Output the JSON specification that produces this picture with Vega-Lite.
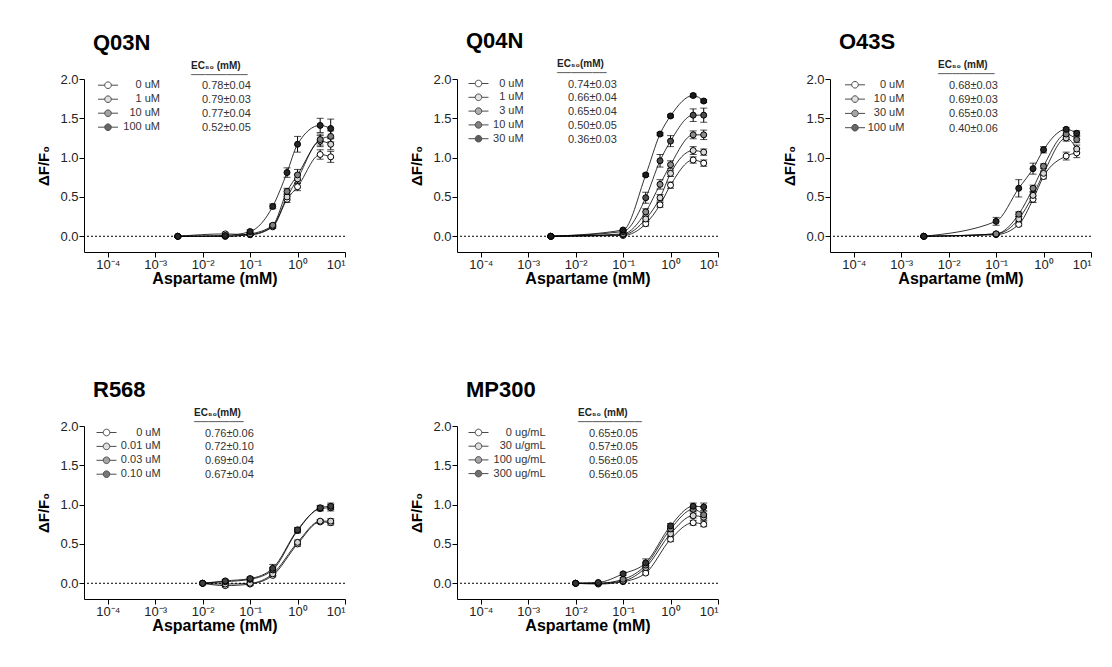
{
"$schema":"https://vega.github.io/schema/vega-lite/v6.json",
"background":"white",
"padding":{"left":36,"top":30,"right":5,"bottom":5},
"columns":3,
"spacing":{"row":174,"column":112},
"bounds":"flush",
"datasets":{
"q03n":[
{"conc":"0 uM","entry":"0 uM|0.78±0.04","order":0,"x":0.003,"y":0,"err":0.01},
{"conc":"0 uM","entry":"0 uM|0.78±0.04","order":0,"x":0.03,"y":0.03,"err":0.02},
{"conc":"0 uM","entry":"0 uM|0.78±0.04","order":0,"x":0.1,"y":0.02,"err":0.01},
{"conc":"0 uM","entry":"0 uM|0.78±0.04","order":0,"x":0.3,"y":0.12,"err":0.02},
{"conc":"0 uM","entry":"0 uM|0.78±0.04","order":0,"x":0.6,"y":0.47,"err":0.04},
{"conc":"0 uM","entry":"0 uM|0.78±0.04","order":0,"x":1,"y":0.63,"err":0.05},
{"conc":"0 uM","entry":"0 uM|0.78±0.04","order":0,"x":3,"y":1.04,"err":0.06},
{"conc":"0 uM","entry":"0 uM|0.78±0.04","order":0,"x":5,"y":1.01,"err":0.07},
{"conc":"1 uM","entry":"1 uM|0.79±0.03","order":1,"x":0.003,"y":0,"err":0.01},
{"conc":"1 uM","entry":"1 uM|0.79±0.03","order":1,"x":0.03,"y":0.0,"err":0.01},
{"conc":"1 uM","entry":"1 uM|0.79±0.03","order":1,"x":0.1,"y":0.02,"err":0.01},
{"conc":"1 uM","entry":"1 uM|0.79±0.03","order":1,"x":0.3,"y":0.13,"err":0.02},
{"conc":"1 uM","entry":"1 uM|0.79±0.03","order":1,"x":0.6,"y":0.5,"err":0.04},
{"conc":"1 uM","entry":"1 uM|0.79±0.03","order":1,"x":1,"y":0.73,"err":0.06},
{"conc":"1 uM","entry":"1 uM|0.79±0.03","order":1,"x":3,"y":1.21,"err":0.07},
{"conc":"1 uM","entry":"1 uM|0.79±0.03","order":1,"x":5,"y":1.17,"err":0.07},
{"conc":"10 uM","entry":"10 uM|0.77±0.04","order":2,"x":0.003,"y":0,"err":0.01},
{"conc":"10 uM","entry":"10 uM|0.77±0.04","order":2,"x":0.03,"y":0.0,"err":0.01},
{"conc":"10 uM","entry":"10 uM|0.77±0.04","order":2,"x":0.1,"y":0.03,"err":0.01},
{"conc":"10 uM","entry":"10 uM|0.77±0.04","order":2,"x":0.3,"y":0.14,"err":0.02},
{"conc":"10 uM","entry":"10 uM|0.77±0.04","order":2,"x":0.6,"y":0.57,"err":0.04},
{"conc":"10 uM","entry":"10 uM|0.77±0.04","order":2,"x":1,"y":0.78,"err":0.07},
{"conc":"10 uM","entry":"10 uM|0.77±0.04","order":2,"x":3,"y":1.23,"err":0.07},
{"conc":"10 uM","entry":"10 uM|0.77±0.04","order":2,"x":5,"y":1.27,"err":0.07},
{"conc":"100 uM","entry":"100 uM|0.52±0.05","order":3,"x":0.003,"y":0,"err":0.01},
{"conc":"100 uM","entry":"100 uM|0.52±0.05","order":3,"x":0.03,"y":0.01,"err":0.01},
{"conc":"100 uM","entry":"100 uM|0.52±0.05","order":3,"x":0.1,"y":0.06,"err":0.02},
{"conc":"100 uM","entry":"100 uM|0.52±0.05","order":3,"x":0.3,"y":0.38,"err":0.03},
{"conc":"100 uM","entry":"100 uM|0.52±0.05","order":3,"x":0.6,"y":0.81,"err":0.06},
{"conc":"100 uM","entry":"100 uM|0.52±0.05","order":3,"x":1,"y":1.17,"err":0.1},
{"conc":"100 uM","entry":"100 uM|0.52±0.05","order":3,"x":3,"y":1.41,"err":0.09},
{"conc":"100 uM","entry":"100 uM|0.52±0.05","order":3,"x":5,"y":1.37,"err":0.12}
],
"q04n":[
{"conc":"0 uM","entry":"0 uM|0.74±0.03","order":0,"x":0.003,"y":0,"err":0.01},
{"conc":"0 uM","entry":"0 uM|0.74±0.03","order":0,"x":0.1,"y":0.01,"err":0.01},
{"conc":"0 uM","entry":"0 uM|0.74±0.03","order":0,"x":0.3,"y":0.16,"err":0.03},
{"conc":"0 uM","entry":"0 uM|0.74±0.03","order":0,"x":0.6,"y":0.40,"err":0.03},
{"conc":"0 uM","entry":"0 uM|0.74±0.03","order":0,"x":1,"y":0.65,"err":0.04},
{"conc":"0 uM","entry":"0 uM|0.74±0.03","order":0,"x":3,"y":0.97,"err":0.04},
{"conc":"0 uM","entry":"0 uM|0.74±0.03","order":0,"x":5,"y":0.93,"err":0.04},
{"conc":"1 uM","entry":"1 uM|0.66±0.04","order":1,"x":0.003,"y":0,"err":0.01},
{"conc":"1 uM","entry":"1 uM|0.66±0.04","order":1,"x":0.1,"y":0.02,"err":0.01},
{"conc":"1 uM","entry":"1 uM|0.66±0.04","order":1,"x":0.3,"y":0.22,"err":0.03},
{"conc":"1 uM","entry":"1 uM|0.66±0.04","order":1,"x":0.6,"y":0.49,"err":0.04},
{"conc":"1 uM","entry":"1 uM|0.66±0.04","order":1,"x":1,"y":0.80,"err":0.04},
{"conc":"1 uM","entry":"1 uM|0.66±0.04","order":1,"x":3,"y":1.09,"err":0.05},
{"conc":"1 uM","entry":"1 uM|0.66±0.04","order":1,"x":5,"y":1.07,"err":0.04},
{"conc":"3 uM","entry":"3 uM|0.65±0.04","order":2,"x":0.003,"y":0,"err":0.01},
{"conc":"3 uM","entry":"3 uM|0.65±0.04","order":2,"x":0.1,"y":0.03,"err":0.01},
{"conc":"3 uM","entry":"3 uM|0.65±0.04","order":2,"x":0.3,"y":0.31,"err":0.04},
{"conc":"3 uM","entry":"3 uM|0.65±0.04","order":2,"x":0.6,"y":0.66,"err":0.06},
{"conc":"3 uM","entry":"3 uM|0.65±0.04","order":2,"x":1,"y":0.91,"err":0.05},
{"conc":"3 uM","entry":"3 uM|0.65±0.04","order":2,"x":3,"y":1.29,"err":0.05},
{"conc":"3 uM","entry":"3 uM|0.65±0.04","order":2,"x":5,"y":1.29,"err":0.06},
{"conc":"10 uM","entry":"10 uM|0.50±0.05","order":3,"x":0.003,"y":0,"err":0.01},
{"conc":"10 uM","entry":"10 uM|0.50±0.05","order":3,"x":0.1,"y":0.06,"err":0.02},
{"conc":"10 uM","entry":"10 uM|0.50±0.05","order":3,"x":0.3,"y":0.49,"err":0.07},
{"conc":"10 uM","entry":"10 uM|0.50±0.05","order":3,"x":0.6,"y":0.96,"err":0.08},
{"conc":"10 uM","entry":"10 uM|0.50±0.05","order":3,"x":1,"y":1.21,"err":0.07},
{"conc":"10 uM","entry":"10 uM|0.50±0.05","order":3,"x":3,"y":1.54,"err":0.08},
{"conc":"10 uM","entry":"10 uM|0.50±0.05","order":3,"x":5,"y":1.54,"err":0.09},
{"conc":"30 uM","entry":"30 uM|0.36±0.03","order":4,"x":0.003,"y":0,"err":0.01},
{"conc":"30 uM","entry":"30 uM|0.36±0.03","order":4,"x":0.1,"y":0.08,"err":0.01},
{"conc":"30 uM","entry":"30 uM|0.36±0.03","order":4,"x":0.3,"y":0.78,"err":0.02},
{"conc":"30 uM","entry":"30 uM|0.36±0.03","order":4,"x":0.6,"y":1.30,"err":0.02},
{"conc":"30 uM","entry":"30 uM|0.36±0.03","order":4,"x":1,"y":1.53,"err":0.02},
{"conc":"30 uM","entry":"30 uM|0.36±0.03","order":4,"x":3,"y":1.79,"err":0.02},
{"conc":"30 uM","entry":"30 uM|0.36±0.03","order":4,"x":5,"y":1.72,"err":0.02}
],
"o43s":[
{"conc":"0 uM","entry":"0 uM|0.68±0.03","order":0,"x":0.003,"y":0,"err":0.01},
{"conc":"0 uM","entry":"0 uM|0.68±0.03","order":0,"x":0.1,"y":0.02,"err":0.01},
{"conc":"0 uM","entry":"0 uM|0.68±0.03","order":0,"x":0.3,"y":0.15,"err":0.02},
{"conc":"0 uM","entry":"0 uM|0.68±0.03","order":0,"x":0.6,"y":0.47,"err":0.04},
{"conc":"0 uM","entry":"0 uM|0.68±0.03","order":0,"x":1,"y":0.76,"err":0.03},
{"conc":"0 uM","entry":"0 uM|0.68±0.03","order":0,"x":3,"y":1.02,"err":0.05},
{"conc":"0 uM","entry":"0 uM|0.68±0.03","order":0,"x":5,"y":1.06,"err":0.06},
{"conc":"10 uM","entry":"10 uM|0.69±0.03","order":1,"x":0.003,"y":0,"err":0.01},
{"conc":"10 uM","entry":"10 uM|0.69±0.03","order":1,"x":0.1,"y":0.03,"err":0.01},
{"conc":"10 uM","entry":"10 uM|0.69±0.03","order":1,"x":0.3,"y":0.22,"err":0.03},
{"conc":"10 uM","entry":"10 uM|0.69±0.03","order":1,"x":0.6,"y":0.52,"err":0.04},
{"conc":"10 uM","entry":"10 uM|0.69±0.03","order":1,"x":1,"y":0.80,"err":0.03},
{"conc":"10 uM","entry":"10 uM|0.69±0.03","order":1,"x":3,"y":1.25,"err":0.04},
{"conc":"10 uM","entry":"10 uM|0.69±0.03","order":1,"x":5,"y":1.11,"err":0.05},
{"conc":"30 uM","entry":"30 uM|0.65±0.03","order":2,"x":0.003,"y":0,"err":0.01},
{"conc":"30 uM","entry":"30 uM|0.65±0.03","order":2,"x":0.1,"y":0.03,"err":0.01},
{"conc":"30 uM","entry":"30 uM|0.65±0.03","order":2,"x":0.3,"y":0.28,"err":0.03},
{"conc":"30 uM","entry":"30 uM|0.65±0.03","order":2,"x":0.6,"y":0.61,"err":0.04},
{"conc":"30 uM","entry":"30 uM|0.65±0.03","order":2,"x":1,"y":0.89,"err":0.03},
{"conc":"30 uM","entry":"30 uM|0.65±0.03","order":2,"x":3,"y":1.30,"err":0.04},
{"conc":"30 uM","entry":"30 uM|0.65±0.03","order":2,"x":5,"y":1.23,"err":0.04},
{"conc":"100 uM","entry":"100 uM|0.40±0.06","order":3,"x":0.003,"y":0,"err":0.01},
{"conc":"100 uM","entry":"100 uM|0.40±0.06","order":3,"x":0.1,"y":0.19,"err":0.05},
{"conc":"100 uM","entry":"100 uM|0.40±0.06","order":3,"x":0.3,"y":0.61,"err":0.11},
{"conc":"100 uM","entry":"100 uM|0.40±0.06","order":3,"x":0.6,"y":0.86,"err":0.07},
{"conc":"100 uM","entry":"100 uM|0.40±0.06","order":3,"x":1,"y":1.10,"err":0.04},
{"conc":"100 uM","entry":"100 uM|0.40±0.06","order":3,"x":3,"y":1.36,"err":0.02},
{"conc":"100 uM","entry":"100 uM|0.40±0.06","order":3,"x":5,"y":1.31,"err":0.03}
],
"r568":[
{"conc":"0 uM","entry":"0 uM|0.76±0.06","order":0,"x":0.01,"y":0,"err":0.01},
{"conc":"0 uM","entry":"0 uM|0.76±0.06","order":0,"x":0.03,"y":-0.03,"err":0.02},
{"conc":"0 uM","entry":"0 uM|0.76±0.06","order":0,"x":0.1,"y":-0.01,"err":0.02},
{"conc":"0 uM","entry":"0 uM|0.76±0.06","order":0,"x":0.3,"y":0.10,"err":0.02},
{"conc":"0 uM","entry":"0 uM|0.76±0.06","order":0,"x":1,"y":0.50,"err":0.03},
{"conc":"0 uM","entry":"0 uM|0.76±0.06","order":0,"x":3,"y":0.78,"err":0.02},
{"conc":"0 uM","entry":"0 uM|0.76±0.06","order":0,"x":5,"y":0.77,"err":0.03},
{"conc":"0.01 uM","entry":"0.01 uM|0.72±0.10","order":1,"x":0.01,"y":0,"err":0.01},
{"conc":"0.01 uM","entry":"0.01 uM|0.72±0.10","order":1,"x":0.03,"y":-0.01,"err":0.02},
{"conc":"0.01 uM","entry":"0.01 uM|0.72±0.10","order":1,"x":0.1,"y":0.0,"err":0.02},
{"conc":"0.01 uM","entry":"0.01 uM|0.72±0.10","order":1,"x":0.3,"y":0.12,"err":0.02},
{"conc":"0.01 uM","entry":"0.01 uM|0.72±0.10","order":1,"x":1,"y":0.52,"err":0.03},
{"conc":"0.01 uM","entry":"0.01 uM|0.72±0.10","order":1,"x":3,"y":0.79,"err":0.02},
{"conc":"0.01 uM","entry":"0.01 uM|0.72±0.10","order":1,"x":5,"y":0.79,"err":0.03},
{"conc":"0.03 uM","entry":"0.03 uM|0.69±0.04","order":2,"x":0.01,"y":0,"err":0.01},
{"conc":"0.03 uM","entry":"0.03 uM|0.69±0.04","order":2,"x":0.03,"y":0.02,"err":0.02},
{"conc":"0.03 uM","entry":"0.03 uM|0.69±0.04","order":2,"x":0.1,"y":0.05,"err":0.02},
{"conc":"0.03 uM","entry":"0.03 uM|0.69±0.04","order":2,"x":0.3,"y":0.17,"err":0.03},
{"conc":"0.03 uM","entry":"0.03 uM|0.69±0.04","order":2,"x":1,"y":0.67,"err":0.03},
{"conc":"0.03 uM","entry":"0.03 uM|0.69±0.04","order":2,"x":3,"y":0.95,"err":0.03},
{"conc":"0.03 uM","entry":"0.03 uM|0.69±0.04","order":2,"x":5,"y":0.96,"err":0.04},
{"conc":"0.10 uM","entry":"0.10 uM|0.67±0.04","order":3,"x":0.01,"y":0,"err":0.01},
{"conc":"0.10 uM","entry":"0.10 uM|0.67±0.04","order":3,"x":0.03,"y":0.03,"err":0.02},
{"conc":"0.10 uM","entry":"0.10 uM|0.67±0.04","order":3,"x":0.1,"y":0.06,"err":0.02},
{"conc":"0.10 uM","entry":"0.10 uM|0.67±0.04","order":3,"x":0.3,"y":0.19,"err":0.05},
{"conc":"0.10 uM","entry":"0.10 uM|0.67±0.04","order":3,"x":1,"y":0.68,"err":0.03},
{"conc":"0.10 uM","entry":"0.10 uM|0.67±0.04","order":3,"x":3,"y":0.96,"err":0.03},
{"conc":"0.10 uM","entry":"0.10 uM|0.67±0.04","order":3,"x":5,"y":0.98,"err":0.04}
],
"mp300":[
{"conc":"0 ug/mL","entry":"0 ug/mL|0.65±0.05","order":0,"x":0.01,"y":0,"err":0.01},
{"conc":"0 ug/mL","entry":"0 ug/mL|0.65±0.05","order":0,"x":0.03,"y":-0.01,"err":0.01},
{"conc":"0 ug/mL","entry":"0 ug/mL|0.65±0.05","order":0,"x":0.1,"y":0.02,"err":0.01},
{"conc":"0 ug/mL","entry":"0 ug/mL|0.65±0.05","order":0,"x":0.3,"y":0.13,"err":0.02},
{"conc":"0 ug/mL","entry":"0 ug/mL|0.65±0.05","order":0,"x":1,"y":0.56,"err":0.03},
{"conc":"0 ug/mL","entry":"0 ug/mL|0.65±0.05","order":0,"x":3,"y":0.77,"err":0.03},
{"conc":"0 ug/mL","entry":"0 ug/mL|0.65±0.05","order":0,"x":5,"y":0.75,"err":0.03},
{"conc":"30 u/gmL","entry":"30 u/gmL|0.57±0.05","order":1,"x":0.01,"y":0,"err":0.01},
{"conc":"30 u/gmL","entry":"30 u/gmL|0.57±0.05","order":1,"x":0.03,"y":0.0,"err":0.01},
{"conc":"30 u/gmL","entry":"30 u/gmL|0.57±0.05","order":1,"x":0.1,"y":0.03,"err":0.01},
{"conc":"30 u/gmL","entry":"30 u/gmL|0.57±0.05","order":1,"x":0.3,"y":0.20,"err":0.03},
{"conc":"30 u/gmL","entry":"30 u/gmL|0.57±0.05","order":1,"x":1,"y":0.63,"err":0.03},
{"conc":"30 u/gmL","entry":"30 u/gmL|0.57±0.05","order":1,"x":3,"y":0.86,"err":0.03},
{"conc":"30 u/gmL","entry":"30 u/gmL|0.57±0.05","order":1,"x":5,"y":0.84,"err":0.04},
{"conc":"100 ug/mL","entry":"100 ug/mL|0.56±0.05","order":2,"x":0.01,"y":0,"err":0.01},
{"conc":"100 ug/mL","entry":"100 ug/mL|0.56±0.05","order":2,"x":0.03,"y":0.0,"err":0.01},
{"conc":"100 ug/mL","entry":"100 ug/mL|0.56±0.05","order":2,"x":0.1,"y":0.05,"err":0.02},
{"conc":"100 ug/mL","entry":"100 ug/mL|0.56±0.05","order":2,"x":0.3,"y":0.23,"err":0.03},
{"conc":"100 ug/mL","entry":"100 ug/mL|0.56±0.05","order":2,"x":1,"y":0.69,"err":0.03},
{"conc":"100 ug/mL","entry":"100 ug/mL|0.56±0.05","order":2,"x":3,"y":0.94,"err":0.03},
{"conc":"100 ug/mL","entry":"100 ug/mL|0.56±0.05","order":2,"x":5,"y":0.87,"err":0.05},
{"conc":"300 ug/mL","entry":"300 ug/mL|0.56±0.05","order":3,"x":0.01,"y":0,"err":0.01},
{"conc":"300 ug/mL","entry":"300 ug/mL|0.56±0.05","order":3,"x":0.03,"y":0.01,"err":0.01},
{"conc":"300 ug/mL","entry":"300 ug/mL|0.56±0.05","order":3,"x":0.1,"y":0.12,"err":0.02},
{"conc":"300 ug/mL","entry":"300 ug/mL|0.56±0.05","order":3,"x":0.3,"y":0.26,"err":0.05},
{"conc":"300 ug/mL","entry":"300 ug/mL|0.56±0.05","order":3,"x":1,"y":0.73,"err":0.03},
{"conc":"300 ug/mL","entry":"300 ug/mL|0.56±0.05","order":3,"x":3,"y":0.98,"err":0.04},
{"conc":"300 ug/mL","entry":"300 ug/mL|0.56±0.05","order":3,"x":5,"y":0.97,"err":0.05}
]
},
"concat":[
{"title":"Q03N","width":261,"height":173,"data":{"name":"q03n"},
"layer":[
{"data":{"values":[{}]},"mark":{"type":"rule","color":"#000","strokeDash":[2,2],"strokeWidth":1},"encoding":{"y":{"datum":0,"type":"quantitative","title":"ΔF/F₀","scale":{"domain":[-0.2,2],"nice":false}}}},
{"mark":{"type":"line","interpolate":"monotone","color":"#000","strokeWidth":0.8},"encoding":{"x":{"field":"x","type":"quantitative","title":"Aspartame (mM)","scale":{"type":"log","domain":[0.0000316228,10],"nice":false}},"y":{"field":"y","type":"quantitative","title":"ΔF/F₀","scale":{"domain":[-0.2,2],"nice":false}},"detail":{"field":"conc"}}},
{"mark":{"type":"errorbar","ticks":{"size":7,"color":"#000","strokeWidth":1},"rule":{"color":"#000","strokeWidth":1}},"encoding":{"x":{"field":"x","type":"quantitative","title":"Aspartame (mM)","scale":{"type":"log","domain":[0.0000316228,10],"nice":false}},"y":{"field":"y","type":"quantitative","title":"ΔF/F₀","scale":{"domain":[-0.2,2],"nice":false}},"yError":{"field":"err"}}},
{"mark":{"type":"point","filled":true,"stroke":"#000","strokeWidth":1,"size":36},"encoding":{
"x":{"field":"x","type":"quantitative","title":"Aspartame (mM)","scale":{"type":"log","domain":[0.0000316228,10],"nice":false},"axis":{"values":[0.0001,0.001,0.01,0.1,1,10],"labelExpr":"'10' + (datum.value < 0.0005 ? '⁻⁴' : datum.value < 0.005 ? '⁻³' : datum.value < 0.05 ? '⁻²' : datum.value < 0.5 ? '⁻¹' : datum.value < 5 ? '⁰' : '¹')"}},
"y":{"field":"y","type":"quantitative","title":"ΔF/F₀","scale":{"domain":[-0.2,2],"nice":false},"axis":{"values":[0,0.5,1,1.5,2],"format":".1f"}},
"fill":{"field":"conc","type":"nominal","sort":{"field":"order","op":"min"},"scale":{"range":["#ffffff","#d4d4d4","#808080","#262626"]},"legend":{"orient":"none","legendX":18.5,"legendY":0.7,"title":null,"symbolType":"M-2,0H-0.66M0.66,0H2M0.66,0A0.66,0.66,0,1,1,-0.66,0A0.66,0.66,0,1,1,0.66,0Z","symbolSize":100,"symbolStrokeColor":"#000","symbolStrokeWidth":1,"labelAlign":"right","labelOffset":46.5,"rowPadding":2}},
"opacity":{"field":"entry","type":"ordinal","sort":{"field":"order","op":"min"},"scale":{"range":[1,1]},"legend":{"orient":"none","legendX":107,"legendY":-18.3,"title":["EC₅₀ (mM)","────────"],"titleFontSize":10,"titleLineHeight":9,"titlePadding":1,"titleColor":"#222","titleFontWeight":"bold","symbolSize":0,"labelOffset":0,"rowPadding":2,"labelExpr":"split(datum.label,'|')[1]","encode":{"symbols":{"update":{"opacity":{"value":0}}}}}}
}}
]},
{"title":"Q04N","width":261,"height":173,"data":{"name":"q04n"},
"layer":[
{"data":{"values":[{}]},"mark":{"type":"rule","color":"#000","strokeDash":[2,2],"strokeWidth":1},"encoding":{"y":{"datum":0,"type":"quantitative","title":"ΔF/F₀","scale":{"domain":[-0.2,2],"nice":false}}}},
{"mark":{"type":"line","interpolate":"monotone","color":"#000","strokeWidth":0.8},"encoding":{"x":{"field":"x","type":"quantitative","title":"Aspartame (mM)","scale":{"type":"log","domain":[0.0000316228,10],"nice":false}},"y":{"field":"y","type":"quantitative","title":"ΔF/F₀","scale":{"domain":[-0.2,2],"nice":false}},"detail":{"field":"conc"}}},
{"mark":{"type":"errorbar","ticks":{"size":7,"color":"#000","strokeWidth":1},"rule":{"color":"#000","strokeWidth":1}},"encoding":{"x":{"field":"x","type":"quantitative","title":"Aspartame (mM)","scale":{"type":"log","domain":[0.0000316228,10],"nice":false}},"y":{"field":"y","type":"quantitative","title":"ΔF/F₀","scale":{"domain":[-0.2,2],"nice":false}},"yError":{"field":"err"}}},
{"mark":{"type":"point","filled":true,"stroke":"#000","strokeWidth":1,"size":36},"encoding":{
"x":{"field":"x","type":"quantitative","title":"Aspartame (mM)","scale":{"type":"log","domain":[0.0000316228,10],"nice":false},"axis":{"values":[0.0001,0.001,0.01,0.1,1,10],"labelExpr":"'10' + (datum.value < 0.0005 ? '⁻⁴' : datum.value < 0.005 ? '⁻³' : datum.value < 0.05 ? '⁻²' : datum.value < 0.5 ? '⁻¹' : datum.value < 5 ? '⁰' : '¹')"}},
"y":{"field":"y","type":"quantitative","title":"ΔF/F₀","scale":{"domain":[-0.2,2],"nice":false},"axis":{"values":[0,0.5,1,1.5,2],"format":".1f"}},
"fill":{"field":"conc","type":"nominal","sort":{"field":"order","op":"min"},"scale":{"range":["#ffffff","#d9d9d9","#8c8c8c","#4d4d4d","#1a1a1a"]},"legend":{"orient":"none","legendX":16,"legendY":-1,"title":null,"symbolType":"M-2,0H-0.66M0.66,0H2M0.66,0A0.66,0.66,0,1,1,-0.66,0A0.66,0.66,0,1,1,0.66,0Z","symbolSize":100,"symbolStrokeColor":"#000","symbolStrokeWidth":1,"labelAlign":"right","labelOffset":39.6,"rowPadding":1.8}},
"opacity":{"field":"entry","type":"ordinal","sort":{"field":"order","op":"min"},"scale":{"range":[1,1]},"legend":{"orient":"none","legendX":100,"legendY":-20,"title":["EC₅₀(mM)","───────"],"titleFontSize":10,"titleLineHeight":9,"titlePadding":1,"titleColor":"#222","titleFontWeight":"bold","symbolSize":0,"labelOffset":0,"rowPadding":1.8,"labelExpr":"split(datum.label,'|')[1]","encode":{"symbols":{"update":{"opacity":{"value":0}}}}}}
}}
]},
{"title":"O43S","width":261,"height":173,"data":{"name":"o43s"},
"layer":[
{"data":{"values":[{}]},"mark":{"type":"rule","color":"#000","strokeDash":[2,2],"strokeWidth":1},"encoding":{"y":{"datum":0,"type":"quantitative","title":"ΔF/F₀","scale":{"domain":[-0.2,2],"nice":false}}}},
{"mark":{"type":"line","interpolate":"monotone","color":"#000","strokeWidth":0.8},"encoding":{"x":{"field":"x","type":"quantitative","title":"Aspartame (mM)","scale":{"type":"log","domain":[0.0000316228,10],"nice":false}},"y":{"field":"y","type":"quantitative","title":"ΔF/F₀","scale":{"domain":[-0.2,2],"nice":false}},"detail":{"field":"conc"}}},
{"mark":{"type":"errorbar","ticks":{"size":7,"color":"#000","strokeWidth":1},"rule":{"color":"#000","strokeWidth":1}},"encoding":{"x":{"field":"x","type":"quantitative","title":"Aspartame (mM)","scale":{"type":"log","domain":[0.0000316228,10],"nice":false}},"y":{"field":"y","type":"quantitative","title":"ΔF/F₀","scale":{"domain":[-0.2,2],"nice":false}},"yError":{"field":"err"}}},
{"mark":{"type":"point","filled":true,"stroke":"#000","strokeWidth":1,"size":36},"encoding":{
"x":{"field":"x","type":"quantitative","title":"Aspartame (mM)","scale":{"type":"log","domain":[0.0000316228,10],"nice":false},"axis":{"values":[0.0001,0.001,0.01,0.1,1,10],"labelExpr":"'10' + (datum.value < 0.0005 ? '⁻⁴' : datum.value < 0.005 ? '⁻³' : datum.value < 0.05 ? '⁻²' : datum.value < 0.5 ? '⁻¹' : datum.value < 5 ? '⁰' : '¹')"}},
"y":{"field":"y","type":"quantitative","title":"ΔF/F₀","scale":{"domain":[-0.2,2],"nice":false},"axis":{"values":[0,0.5,1,1.5,2],"format":".1f"}},
"fill":{"field":"conc","type":"nominal","sort":{"field":"order","op":"min"},"scale":{"range":["#ffffff","#d4d4d4","#808080","#262626"]},"legend":{"orient":"none","legendX":19.5,"legendY":0.3,"title":null,"symbolType":"M-2,0H-0.66M0.66,0H2M0.66,0A0.66,0.66,0,1,1,-0.66,0A0.66,0.66,0,1,1,0.66,0Z","symbolSize":100,"symbolStrokeColor":"#000","symbolStrokeWidth":1,"labelAlign":"right","labelOffset":43.9,"rowPadding":2.3}},
"opacity":{"field":"entry","type":"ordinal","sort":{"field":"order","op":"min"},"scale":{"range":[1,1]},"legend":{"orient":"none","legendX":108,"legendY":-18.7,"title":["EC₅₀ (mM)","────────"],"titleFontSize":10,"titleLineHeight":9,"titlePadding":1,"titleColor":"#222","titleFontWeight":"bold","symbolSize":0,"labelOffset":0,"rowPadding":2.3,"labelExpr":"split(datum.label,'|')[1]","encode":{"symbols":{"update":{"opacity":{"value":0}}}}}}
}}
]},
{"title":"R568","width":261,"height":173,"data":{"name":"r568"},
"layer":[
{"data":{"values":[{}]},"mark":{"type":"rule","color":"#000","strokeDash":[2,2],"strokeWidth":1},"encoding":{"y":{"datum":0,"type":"quantitative","title":"ΔF/F₀","scale":{"domain":[-0.2,2],"nice":false}}}},
{"mark":{"type":"line","interpolate":"monotone","color":"#000","strokeWidth":0.8},"encoding":{"x":{"field":"x","type":"quantitative","title":"Aspartame (mM)","scale":{"type":"log","domain":[0.0000316228,10],"nice":false}},"y":{"field":"y","type":"quantitative","title":"ΔF/F₀","scale":{"domain":[-0.2,2],"nice":false}},"detail":{"field":"conc"}}},
{"mark":{"type":"errorbar","ticks":{"size":7,"color":"#000","strokeWidth":1},"rule":{"color":"#000","strokeWidth":1}},"encoding":{"x":{"field":"x","type":"quantitative","title":"Aspartame (mM)","scale":{"type":"log","domain":[0.0000316228,10],"nice":false}},"y":{"field":"y","type":"quantitative","title":"ΔF/F₀","scale":{"domain":[-0.2,2],"nice":false}},"yError":{"field":"err"}}},
{"mark":{"type":"point","filled":true,"stroke":"#000","strokeWidth":1,"size":36},"encoding":{
"x":{"field":"x","type":"quantitative","title":"Aspartame (mM)","scale":{"type":"log","domain":[0.0000316228,10],"nice":false},"axis":{"values":[0.0001,0.001,0.01,0.1,1,10],"labelExpr":"'10' + (datum.value < 0.0005 ? '⁻⁴' : datum.value < 0.005 ? '⁻³' : datum.value < 0.05 ? '⁻²' : datum.value < 0.5 ? '⁻¹' : datum.value < 5 ? '⁰' : '¹')"}},
"y":{"field":"y","type":"quantitative","title":"ΔF/F₀","scale":{"domain":[-0.2,2],"nice":false},"axis":{"values":[0,0.5,1,1.5,2],"format":".1f"}},
"fill":{"field":"conc","type":"nominal","sort":{"field":"order","op":"min"},"scale":{"range":["#ffffff","#d4d4d4","#808080","#404040"]},"legend":{"orient":"none","legendX":17,"legendY":1,"title":null,"symbolType":"M-2,0H-0.66M0.66,0H2M0.66,0A0.66,0.66,0,1,1,-0.66,0A0.66,0.66,0,1,1,0.66,0Z","symbolSize":100,"symbolStrokeColor":"#000","symbolStrokeWidth":1,"labelAlign":"right","labelOffset":48.6,"rowPadding":1.9}},
"opacity":{"field":"entry","type":"ordinal","sort":{"field":"order","op":"min"},"scale":{"range":[1,1]},"legend":{"orient":"none","legendX":110,"legendY":-18,"title":["EC₅₀(mM)","───────"],"titleFontSize":10,"titleLineHeight":9,"titlePadding":1,"titleColor":"#222","titleFontWeight":"bold","symbolSize":0,"labelOffset":0,"rowPadding":1.9,"labelExpr":"split(datum.label,'|')[1]","encode":{"symbols":{"update":{"opacity":{"value":0}}}}}}
}}
]},
{"title":"MP300","width":261,"height":173,"data":{"name":"mp300"},
"layer":[
{"data":{"values":[{}]},"mark":{"type":"rule","color":"#000","strokeDash":[2,2],"strokeWidth":1},"encoding":{"y":{"datum":0,"type":"quantitative","title":"ΔF/F₀","scale":{"domain":[-0.2,2],"nice":false}}}},
{"mark":{"type":"line","interpolate":"monotone","color":"#000","strokeWidth":0.8},"encoding":{"x":{"field":"x","type":"quantitative","title":"Aspartame (mM)","scale":{"type":"log","domain":[0.0000316228,10],"nice":false}},"y":{"field":"y","type":"quantitative","title":"ΔF/F₀","scale":{"domain":[-0.2,2],"nice":false}},"detail":{"field":"conc"}}},
{"mark":{"type":"errorbar","ticks":{"size":7,"color":"#000","strokeWidth":1},"rule":{"color":"#000","strokeWidth":1}},"encoding":{"x":{"field":"x","type":"quantitative","title":"Aspartame (mM)","scale":{"type":"log","domain":[0.0000316228,10],"nice":false}},"y":{"field":"y","type":"quantitative","title":"ΔF/F₀","scale":{"domain":[-0.2,2],"nice":false}},"yError":{"field":"err"}}},
{"mark":{"type":"point","filled":true,"stroke":"#000","strokeWidth":1,"size":36},"encoding":{
"x":{"field":"x","type":"quantitative","title":"Aspartame (mM)","scale":{"type":"log","domain":[0.0000316228,10],"nice":false},"axis":{"values":[0.0001,0.001,0.01,0.1,1,10],"labelExpr":"'10' + (datum.value < 0.0005 ? '⁻⁴' : datum.value < 0.005 ? '⁻³' : datum.value < 0.05 ? '⁻²' : datum.value < 0.5 ? '⁻¹' : datum.value < 5 ? '⁰' : '¹')"}},
"y":{"field":"y","type":"quantitative","title":"ΔF/F₀","scale":{"domain":[-0.2,2],"nice":false},"axis":{"values":[0,0.5,1,1.5,2],"format":".1f"}},
"fill":{"field":"conc","type":"nominal","sort":{"field":"order","op":"min"},"scale":{"range":["#ffffff","#d4d4d4","#808080","#333333"]},"legend":{"orient":"none","legendX":16,"legendY":1,"title":null,"symbolType":"M-2,0H-0.66M0.66,0H2M0.66,0A0.66,0.66,0,1,1,-0.66,0A0.66,0.66,0,1,1,0.66,0Z","symbolSize":100,"symbolStrokeColor":"#000","symbolStrokeWidth":1,"labelAlign":"right","labelOffset":61.6,"rowPadding":1.7}},
"opacity":{"field":"entry","type":"ordinal","sort":{"field":"order","op":"min"},"scale":{"range":[1,1]},"legend":{"orient":"none","legendX":121,"legendY":-18,"title":["EC₅₀ (mM)","─────────"],"titleFontSize":10,"titleLineHeight":9,"titlePadding":1,"titleColor":"#222","titleFontWeight":"bold","symbolSize":0,"labelOffset":0,"rowPadding":1.7,"labelExpr":"split(datum.label,'|')[1]","encode":{"symbols":{"update":{"opacity":{"value":0}}}}}}
}}
]}
],
"resolve":{"scale":{"x":"independent","y":"independent","fill":"independent","opacity":"independent"},"legend":{"fill":"independent","opacity":"independent"}},
"config":{
"font":"Liberation Sans",
"view":{"stroke":null},
"axis":{"domainColor":"#000","tickColor":"#000","labelColor":"#222","labelFontSize":13,"grid":false,"tickSize":5,"labelPadding":1,"titleColor":"#000","labelFont":"Liberation Sans","titleFont":"Liberation Sans"},
"axisX":{"titleFontSize":16,"titleFontWeight":"bold","titlePadding":-1},
"axisY":{"titleFontSize":15,"titleFontWeight":"bold","titlePadding":8},
"title":{"anchor":"start","fontSize":22,"fontWeight":"bold","frame":"group","dx":9,"offset":6,"baseline":"alphabetic","color":"#000","font":"Liberation Sans"},
"legend":{"padding":0,"labelFont":"Liberation Sans","titleFont":"Liberation Sans","labelFontSize":11,"labelColor":"#333","labelLimit":300}
}
}
